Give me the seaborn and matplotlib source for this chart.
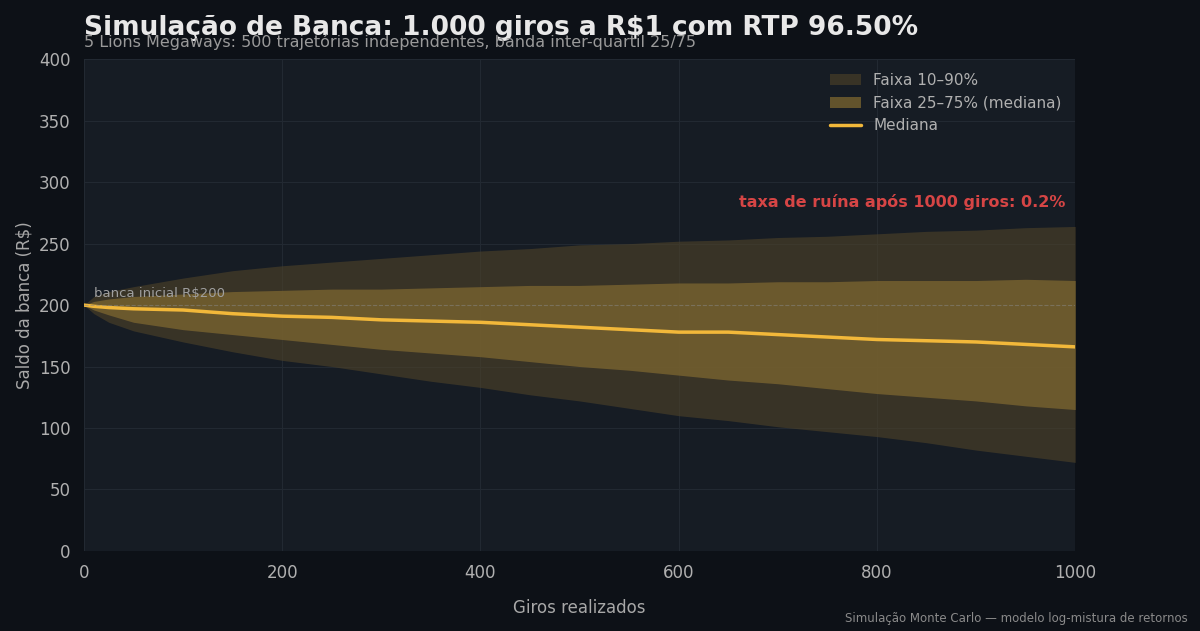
import numpy as np
import pandas as pd
import matplotlib.pyplot as plt
import seaborn as sns

# valores (saldo em R$ por número de giros)
giros = [0, 10, 25, 50, 100, 150, 200, 250, 300, 350, 400, 450, 500, 550, 600, 650, 700, 750, 800, 850, 900, 950, 1000]
mediana = [200, 199, 198, 197, 196, 193, 191, 190, 188, 187, 186, 184, 182, 180, 178, 178, 176, 174, 172, 171, 170, 168, 166]
p25 = [200, 196, 192, 186, 180, 176, 172, 168, 164, 161, 158, 154, 150, 147, 143, 139, 136, 132, 128, 125, 122, 118, 115]
p75 = [200, 203, 205, 207, 209, 211, 212, 213, 213, 214, 215, 216, 216, 217, 218, 218, 219, 219, 220, 220, 220, 221, 220]
p10 = [200, 193, 186, 179, 170, 162, 155, 150, 144, 138, 133, 127, 122, 116, 110, 106, 101, 97, 93, 88, 82, 77, 72]
p90 = [200, 207, 211, 215, 222, 228, 232, 235, 238, 241, 244, 246, 249, 250, 252, 253, 255, 256, 258, 260, 261, 263, 264]
banca_inicial = 200
taxa_ruina = 0.2

df = pd.DataFrame({'giros': giros, 'mediana': mediana})

sns.set_theme(style='dark')
plt.rcParams['font.family'] = ['DejaVu Sans']
fig, ax = plt.subplots(figsize=(12, 6.31), dpi=100)
fig.patch.set_facecolor('#0d1117')
ax.set_facecolor('#161c24')

ax.fill_between(giros, p10, p90, color='#4f4329', alpha=0.6, label='Faixa 10–90%', linewidth=0)
ax.fill_between(giros, p25, p75, color='#7d6630', alpha=0.75, label='Faixa 25–75% (mediana)', linewidth=0)
sns.lineplot(data=df, x='giros', y='mediana', color='#f2b83a', linewidth=2.5, label='Mediana', ax=ax)
ax.axhline(banca_inicial, color='#888888', linestyle='--', linewidth=0.8, alpha=0.5)
ax.text(10, banca_inicial + 4, 'banca inicial R$200', color='#a0a0a0', fontsize=9.5, va='bottom')
ax.text(990, 284, f'taxa de ruína após 1000 giros: {taxa_ruina}%', color='#d64545',
        fontsize=11.5, fontweight='bold', ha='right', va='center')

ax.set_xlim(0, 1000)
ax.set_ylim(0, 400)
ax.set_xticks(range(0, 1001, 200))
ax.set_yticks(range(0, 401, 50))
ax.tick_params(colors='#b0b0b0', labelsize=12)
ax.grid(True, color='#232a33', linewidth=0.7)
for s in ax.spines.values():
    s.set_visible(False)
ax.set_xlabel('Giros realizados', color='#a8a8a8', fontsize=12, labelpad=12)
ax.set_ylabel('Saldo da banca (R$)', color='#a8a8a8', fontsize=12)

leg = ax.legend(loc='upper right', frameon=False, fontsize=11)
for t in leg.get_texts():
    t.set_color('#b0b0b0')

fig.text(0.07, 0.945, 'Simulação de Banca: 1.000 giros a R$1 com RTP 96.50%', color='#e8e8e8',
         fontsize=19, fontweight='bold')
fig.text(0.07, 0.925, '5 Lions Megaways: 500 trajetórias independentes, banda inter-quartil 25/75',
         color='#9a9a9a', fontsize=11.5)
fig.text(0.99, 0.015, 'Simulação Monte Carlo — modelo log-mistura de retornos', color='#8a8a8a',
         fontsize=8.5, ha='right')

fig.subplots_adjust(left=0.07, right=0.896, top=0.906, bottom=0.127)
fig.savefig('out.png', dpi=100, facecolor=fig.get_facecolor())
